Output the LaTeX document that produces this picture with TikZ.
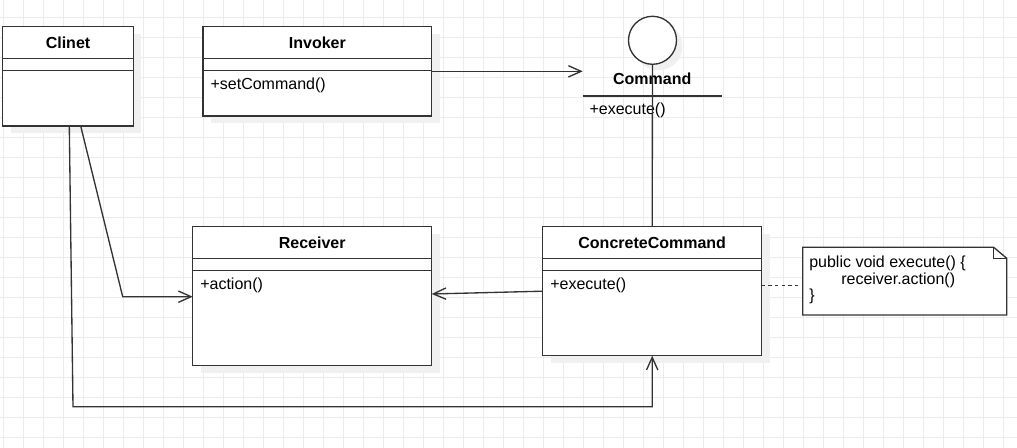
\documentclass[tikz,border=0pt]{standalone}
\usepackage{fontspec}
\setmainfont{Liberation Sans}
\usetikzlibrary{calc,arrows.meta,shadows}

\definecolor{linec}{RGB}{51,51,51}
\definecolor{gridc}{RGB}{236,236,236}
\definecolor{shadowc}{RGB}{240,240,240}

\newcommand{\diagfont}{\fontsize{12pt}{14pt}\selectfont}

\tikzset{
  border/.style={draw=linec, line width=1pt},
  cls/.style={border, fill=white, anchor=north west, inner sep=0pt, outer sep=0pt,
    general shadow={fill=shadowc, shadow xshift=6pt, shadow yshift=-5.5pt}},
  classtitle/.style={font=\diagfont\bfseries, inner sep=0pt, anchor=base},
  member/.style={font=\diagfont, inner sep=0pt, anchor=base west},
  conn/.style={draw=linec, line width=1pt},
  openhead/.style={-{Straight Barb[length=9.5pt, width=8.5pt]}},
  notebody/.style={anchor=north west, inner sep=0pt, outer sep=0pt},
}

% UML class: name, x, y, width, height, title, operation (all in px units)
\newcommand{\umlclass}[7]{%
  \node[cls, minimum width=#4*0.75pt, minimum height=#5*0.75pt] (#1) at (#2,#3) {};
  \draw[border] ($(#1.north west)+(0,31.6)$) -- ($(#1.north east)+(0,31.6)$);
  \draw[border] ($(#1.north west)+(0,44)$) -- ($(#1.north east)+(0,44)$);
  \node[classtitle] (#1-title) at ($(#1.north)+(0,21.6)$) {#6};
  \node[member] (#1-op) at ($(#1.north west)+(7.3,62.6)$) {#7};
}

\begin{document}
\begin{tikzpicture}[x=0.75pt, y=-0.75pt]
  % canvas and grid
  \fill[white] (0,0) rectangle (1017,448);
  \useasboundingbox (0,0) rectangle (1017,448);
  \foreach \gx in {3.3,23.3,...,1013.3} \draw[gridc, line width=0.75pt] (\gx,0) -- (\gx,448);
  \foreach \gy in {17.3,37.3,...,437.3} \draw[gridc, line width=0.75pt] (0,\gy) -- (1017,\gy);

  % classes
  \umlclass{clinet}{2.7}{26.7}{130.6}{99.3}{Clinet}{}
  \umlclass{invoker}{203}{26.7}{228.7}{89.3}{Invoker}{+setCommand()}
  \umlclass{receiver}{192.7}{226.7}{239}{139}{Receiver}{+action()}
  \umlclass{concrete}{542.7}{226.7}{219}{129}{ConcreteCommand}{+execute()}

  % Command interface (lollipop)
  \node[circle, border, fill=white, minimum size=36pt, inner sep=0pt, outer sep=0pt,
        general shadow={fill=shadowc, shadow xshift=4.5pt, shadow yshift=-4.5pt}]
        (cmdiface) at (652.5,40.3) {};
  \node[classtitle] (cmdname) at (652.2,85) {Command};
  \coordinate (cmdsepL) at (582.7,96);
  \coordinate (cmdsepR) at (721.7,96);
  \draw[border] (cmdsepL) -- (cmdsepR);
  \node[member] (cmdop) at (589.3,114.3) {+execute()};
  \draw[conn] (cmdiface.south) -- (concrete.north);

  % note with folded corner
  \node[notebody, minimum width=153pt, minimum height=50.8pt] (note) at (802.7,247.3) {};
  \draw[border, fill=white]
    (note.north west) -- ($(note.north east)+(-13,0)$) -- ($(note.north east)+(0,11)$)
    -- (note.south east) -- (note.south west) -- cycle;
  \draw[border] ($(note.north east)+(-13,0)$) -- ($(note.north east)+(-13,11)$)
    -- ($(note.north east)+(0,11)$);
  \node[member] (notel1) at (809,267.5) {public void execute() \{};
  \node[member] (notel2) at (841,284.3) {receiver.action()};
  \node[member] (notel3) at (809,301) {\}};

  % connectors
  \coordinate (clA) at ($(clinet.south west)+(78,0)$);
  \coordinate (clB) at ($(clinet.south west)+(66.6,0)$);
  \coordinate (bendR) at (122.7,296.7);
  \coordinate (bendC) at (73,406.7);
  \coordinate (recvIn) at ($(receiver.east)+(0,-2.2)$);
  \coordinate (dashA) at (761.7,285.7);
  \coordinate (dashB) at (802.7,285.7);

  \draw[conn, openhead] (invoker.east) -- (invoker.east -| cmdsepL);
  \draw[conn, openhead] (clA) -- (bendR) -- (bendR -| receiver.west);
  \draw[conn, openhead] (clB) -- (bendC) -- (bendC -| concrete.south) -- (concrete.south);
  \draw[conn, openhead] (concrete.west) -- (recvIn);
  \draw[conn, dash pattern=on 2.5pt off 2.5pt] (dashA) -- (dashB);
\end{tikzpicture}
\end{document}
